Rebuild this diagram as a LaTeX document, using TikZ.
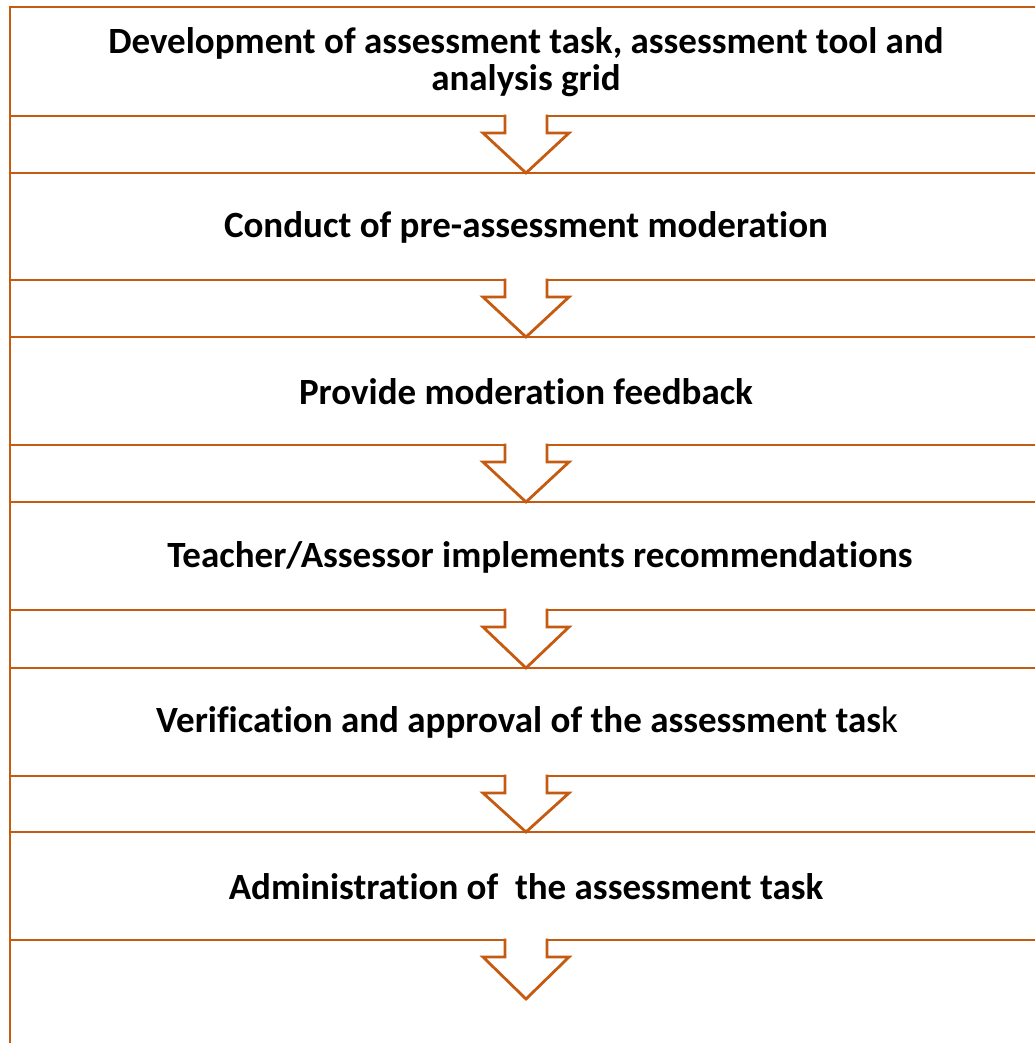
\documentclass[tikz,border=0pt]{standalone}
\usepackage{fontspec}
\setmainfont{Carlito}[Ligatures=NoCommon]
\definecolor{rule}{HTML}{C55A11}
\begin{document}
\begin{tikzpicture}[x=1pt,y=-1pt,
  frame/.style={draw=rule,line width=2.8pt},
  label/.style={font=\fontsize{37}{37}\selectfont\bfseries,align=center,inner sep=0pt,text=black},
  blockarrow/.style={draw=rule,line width=2.8pt,line join=miter}]
\useasboundingbox (0,0) rectangle (1035,1043);
% horizontal rules bounding each stage and each gap
\foreach \y in {7,116,173,280,337,445,502,610,668,776,832,940}
  \draw[frame] (10,\y) -- (1035,\y);
% left border
\draw[frame] (10,5.6) -- (10,1043);
% stage labels
\node[label] (s1) at (526,62) {Development of assessment task, assessment tool and\\analysis grid};
\node[label] (s2) at (526,227) {Conduct of pre-assessment moderation};
\node[label] (s3) at (526,392) {Provide moderation feedback};
\node[label] (s4) at (540,557) {Teacher/Assessor implements recommendations};
\node[label] (s5) at (527,722) {Verification and approval of the assessment tas\textmd{k}};
\node[label] (s6) at (526,887) {Administration of\ \ the assessment task};
% hollow block arrows leading from one stage to the next
\foreach \y/\d in {116/57,280/57,445/57,610/58,776/56,940/59}{
  \fill[white] (505,\y-2) -- (505,\y+17) -- (483,\y+17) -- (526,\y+\d)
    -- (569,\y+17) -- (547,\y+17) -- (547,\y-2) -- cycle;
  \draw[blockarrow] (505,\y-1.4) -- (505,\y+17) -- (483,\y+17) -- (526,\y+\d)
    -- (569,\y+17) -- (547,\y+17) -- (547,\y-1.4);
}
\end{tikzpicture}
\end{document}
